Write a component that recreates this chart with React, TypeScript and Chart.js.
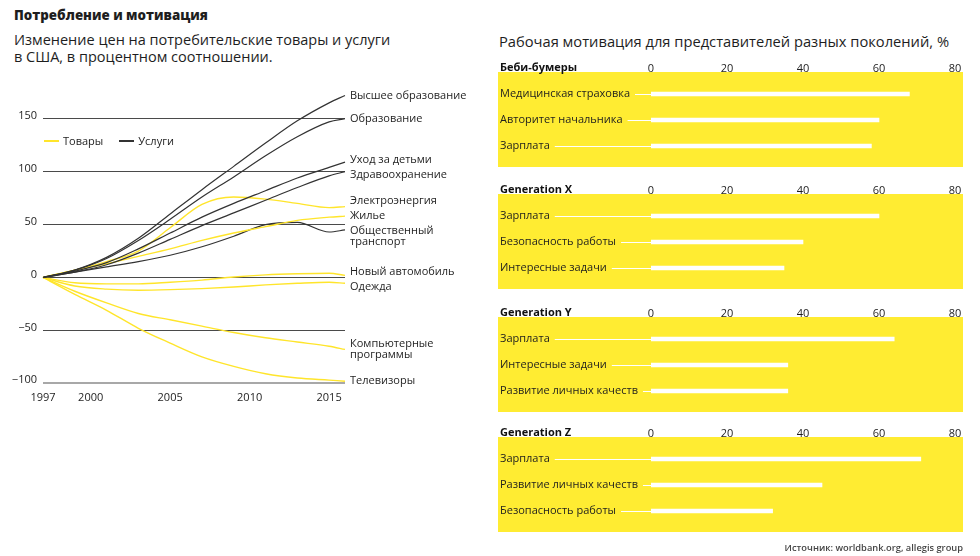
import React, { useEffect, useRef } from "react";
import { Chart, registerables } from "chart.js";

Chart.register(...registerables);

const FONT = '"Open Sans", "Noto Sans", sans-serif';
const YELLOW_LINE = "#FFE52B";
const DARK_LINE = "#333333";
const PANEL_YELLOW = "#FFEC32";
const TEXT = "#1e1e1e";

// ---------- Left chart data ----------
const YEARS = [1997, 1999, 2001, 2003, 2005, 2007, 2009, 2011, 2013, 2015, 2016];
const X_TICKS = [1997, 2000, 2005, 2010, 2015];
const Y_TICKS = [-100, -50, 0, 50, 100, 150];

const HIGHER_EDU = [0, 7, 19, 37, 60, 83, 105, 127, 148, 165, 172];
const EDUCATION = [0, 7, 18, 35, 55, 76, 95, 115, 133, 147, 150];
const CHILDCARE = [0, 6, 14, 27, 42, 57, 70, 82, 94, 104, 109];
const HEALTHCARE = [0, 5, 12, 23, 36, 49, 61, 73, 85, 96, 100];
const ELECTRICITY = [0, 7, 15, 25, 47, 69, 76, 74, 70, 66, 67];
const HOUSING = [0, 7, 13, 20, 27, 35, 42, 48, 54, 57, 58];
const TRANSPORT = [0, 5, 10, 15, 21, 29, 39, 50, 52, 43, 45];
const NEW_CAR = [0, -5, -6, -6, -4.5, -2.5, 0.5, 2.5, 3.5, 4, 2];
const CLOTHING = [0, -8, -11, -12, -11.5, -10.5, -9, -7, -5.5, -4.5, -5.5];
const SOFTWARE = [0, -13, -24, -34, -40, -46, -52, -57, -61, -65, -68];
const TV = [0, -16, -31, -48, -62, -75, -84, -91, -95, -97, -98];

const SERIES = [
  { name: ["Высшее образование"], kind: "services", values: HIGHER_EDU },
  { name: ["Образование"], kind: "services", values: EDUCATION },
  { name: ["Уход за детьми"], kind: "services", values: CHILDCARE },
  { name: ["Здравоохранение"], kind: "services", values: HEALTHCARE },
  { name: ["Электроэнергия"], kind: "goods", values: ELECTRICITY },
  { name: ["Жилье"], kind: "goods", values: HOUSING },
  { name: ["Общественный", "транспорт"], kind: "services", values: TRANSPORT },
  { name: ["Новый автомобиль"], kind: "goods", values: NEW_CAR },
  { name: ["Одежда"], kind: "goods", values: CLOTHING },
  { name: ["Компьютерные", "программы"], kind: "goods", values: SOFTWARE },
  { name: ["Телевизоры"], kind: "goods", values: TV },
];

// ---------- Right chart data ----------
const BAR_TICKS = [0, 20, 40, 60, 80];
const BOOMERS_LABELS = ["Медицинская страховка", "Авторитет начальника", "Зарплата"];
const BOOMERS_VALUES = [68, 60, 58];
const GEN_X_LABELS = ["Зарплата", "Безопасность работы", "Интересные задачи"];
const GEN_X_VALUES = [60, 40, 35];
const GEN_Y_LABELS = ["Зарплата", "Интересные задачи", "Развитие личных качеств"];
const GEN_Y_VALUES = [64, 36, 36];
const GEN_Z_LABELS = ["Зарплата", "Развитие личных качеств", "Безопасность работы"];
const GEN_Z_VALUES = [71, 45, 32];

const PANELS = [
  { title: "Беби-бумеры", labels: BOOMERS_LABELS, values: BOOMERS_VALUES, top: 61 },
  { title: "Generation X", labels: GEN_X_LABELS, values: GEN_X_VALUES, top: 183 },
  { title: "Generation Y", labels: GEN_Y_LABELS, values: GEN_Y_VALUES, top: 306 },
  { title: "Generation Z", labels: GEN_Z_LABELS, values: GEN_Z_VALUES, top: 426 },
];

const endLabels = {
  id: "endLabels",
  afterDatasetsDraw(chart: any) {
    const { ctx, chartArea } = chart;
    const lh = 11.5;
    const items = chart.data.datasets
      .map((ds: any, i: number) => {
        const meta = chart.getDatasetMeta(i);
        const pt = meta.data[meta.data.length - 1];
        const lines: string[] = ds.nameLines;
        return { y: pt.y, lines, h: lines.length * lh };
      })
      .sort((a: any, b: any) => a.y - b.y);
    for (let it = 0; it < 60; it++) {
      for (let i = 1; i < items.length; i++) {
        const a = items[i - 1];
        const b = items[i];
        const need = a.h / 2 + b.h / 2 + 3.5;
        const d = need - (b.y - a.y);
        if (d > 0) {
          a.y -= d / 2;
          b.y += d / 2;
        }
      }
    }
    ctx.save();
    ctx.font = `11px ${FONT}`;
    ctx.fillStyle = TEXT;
    ctx.textBaseline = "middle";
    ctx.textAlign = "left";
    items.forEach((item: any) => {
      item.lines.forEach((ln: string, k: number) => {
        ctx.fillText(ln, chartArea.right + 5, item.y - item.h / 2 + lh / 2 + k * lh);
      });
    });
    ctx.restore();
  },
};

const panelDeco = {
  id: "panelDeco",
  beforeDraw(chart: any, _args: any, opts: any) {
    const { ctx, chartArea } = chart;
    ctx.save();
    ctx.fillStyle = PANEL_YELLOW;
    ctx.fillRect(8, chartArea.top - 9, chartArea.right + 8 - 8, chartArea.height + 17);
    ctx.font = `bold 11px ${FONT}`;
    ctx.fillStyle = "#111";
    ctx.textBaseline = "middle";
    ctx.textAlign = "left";
    ctx.fillText(opts.title, 10, chartArea.top - 13);
    ctx.restore();
  },
  beforeDatasetsDraw(chart: any) {
    const { ctx, chartArea } = chart;
    const yScale = chart.scales.y;
    ctx.save();
    ctx.font = `11px ${FONT}`;
    ctx.strokeStyle = "#ffffff";
    ctx.lineWidth = 1;
    chart.data.labels.forEach((label: string, i: number) => {
      const w = ctx.measureText(label).width;
      const y = Math.round(yScale.getPixelForTick(i)) + 0.5;
      ctx.beginPath();
      ctx.moveTo(10 + w + 5, y);
      ctx.lineTo(chartArea.left, y);
      ctx.stroke();
    });
    ctx.restore();
  },
};

function LineChart() {
  const ref = useRef<HTMLCanvasElement>(null);
  useEffect(() => {
    const chart = new Chart(ref.current!, {
      type: "line",
      data: {
        datasets: SERIES.map((s) => ({
          label: s.name.join(" "),
          nameLines: s.name,
          data: s.values.map((v, i) => ({ x: YEARS[i], y: v })),
          borderColor: s.kind === "goods" ? YELLOW_LINE : DARK_LINE,
          borderWidth: s.kind === "goods" ? 1.4 : 1.2,
          pointRadius: 0,
          cubicInterpolationMode: "monotone",
          clip: false,
        })) as any,
      },
      options: {
        animation: false,
        responsive: false,
        events: [],
        layout: { padding: { top: 87, left: 0, right: 135, bottom: 0 } },
        plugins: { legend: { display: false }, tooltip: { enabled: false } },
        scales: {
          x: {
            type: "linear",
            min: 1997,
            max: 2016,
            grid: { display: false, drawTicks: false },
            border: { display: false },
            afterBuildTicks: (scale: any) => {
              scale.ticks = X_TICKS.map((v) => ({ value: v }));
            },
            afterFit: (scale: any) => {
              scale.height = 420 - 383.3;
            },
            ticks: {
              padding: 8,
              color: TEXT,
              font: { size: 11, family: FONT },
              maxRotation: 0,
              callback: (v: any) => String(v),
            },
          },
          y: {
            type: "linear",
            min: -100,
            max: 180,
            grid: {
              drawTicks: false,
              color: (c: any) => (c.tick && c.tick.value === -100 ? "#a8a8a8" : "#4a4a4a"),
              lineWidth: (c: any) => (c.tick && c.tick.value === -100 ? 2 : 1),
            },
            border: { display: false },
            afterBuildTicks: (scale: any) => {
              scale.ticks = Y_TICKS.map((v) => ({ value: v }));
            },
            afterFit: (scale: any) => {
              scale.width = 43;
            },
            ticks: {
              padding: 6,
              labelOffset: -3,
              color: TEXT,
              font: { size: 11, family: FONT },
              callback: (v: any) => (v < 0 ? "\u2212" + Math.abs(v) : String(v)),
            },
          },
        },
      },
      plugins: [endLabels],
    });
    return () => chart.destroy();
  }, []);
  return (
    <canvas
      ref={ref}
      width={480}
      height={420}
      style={{ position: "absolute", left: 0, top: 0, width: 480, height: 420 }}
    />
  );
}

function BarPanel({ panel }: { panel: (typeof PANELS)[number] }) {
  const ref = useRef<HTMLCanvasElement>(null);
  useEffect(() => {
    const chart = new Chart(ref.current!, {
      type: "bar",
      data: {
        labels: panel.labels,
        datasets: [
          {
            data: panel.values,
            backgroundColor: "#ffffff",
            borderWidth: 0,
            barThickness: 4,
          },
        ],
      },
      options: {
        indexAxis: "y",
        animation: false,
        responsive: false,
        events: [],
        layout: { padding: { top: 0, left: 10, right: 15, bottom: 22 } },
        plugins: {
          legend: { display: false },
          tooltip: { enabled: false },
          panelDeco: { title: panel.title },
        } as any,
        scales: {
          x: {
            position: "top",
            min: 0,
            max: 80,
            grid: { display: false, drawTicks: false },
            border: { display: false },
            afterBuildTicks: (scale: any) => {
              scale.ticks = BAR_TICKS.map((v) => ({ value: v }));
            },
            afterFit: (scale: any) => {
              scale.height = 20;
            },
            ticks: {
              padding: 6,
              color: TEXT,
              font: { size: 11, family: FONT },
              maxRotation: 0,
            },
          },
          y: {
            grid: { display: false, drawTicks: false },
            border: { display: false },
            afterFit: (scale: any) => {
              scale.width = 151;
            },
            ticks: {
              crossAlign: "far",
              padding: 0,
              color: TEXT,
              font: { size: 11, family: FONT },
            },
          },
        },
      },
      plugins: [panelDeco],
    });
    return () => chart.destroy();
  }, [panel]);
  return (
    <canvas
      ref={ref}
      width={480}
      height={120}
      style={{ position: "absolute", left: 490, top: panel.top, width: 480, height: 120 }}
    />
  );
}

export default function App() {
  return (
    <div
      style={{
        position: "absolute",
        left: 0,
        top: 0,
        width: 980,
        height: 556,
        background: "#fff",
        fontFamily: FONT,
        color: TEXT,
        overflow: "hidden",
      }}
    >
      <div style={{ position: "absolute", left: 14, top: 7, fontSize: 13.3, fontWeight: 800, lineHeight: "16px", whiteSpace: "nowrap" }}>
        Потребление и мотивация
      </div>
      <div style={{ position: "absolute", left: 14, top: 32, fontSize: 14.5, lineHeight: "16.5px", width: 430 }}>
        Изменение цен на потребительские товары и услуги
        <br />в США, в процентном соотношении.
      </div>
      <div style={{ position: "absolute", left: 499, top: 33, fontSize: 14.7, lineHeight: "17px", whiteSpace: "nowrap" }}>
        Рабочая мотивация для представителей разных поколений, %
      </div>
      <LineChart />
      <div style={{ position: "absolute", left: 44, top: 132, fontSize: 11, lineHeight: "16px", whiteSpace: "nowrap" }}>
        <span style={{ display: "inline-block", width: 15, height: 2, background: YELLOW_LINE, verticalAlign: "middle", marginRight: 4 }} />
        <span style={{ verticalAlign: "middle" }}>Товары</span>
        <span style={{ display: "inline-block", width: 15, height: 2, background: DARK_LINE, verticalAlign: "middle", marginLeft: 16, marginRight: 4 }} />
        <span style={{ verticalAlign: "middle" }}>Услуги</span>
      </div>
      {PANELS.map((p) => (
        <BarPanel key={p.title} panel={p} />
      ))}
      <div
        style={{
          position: "absolute",
          left: 663,
          width: 300,
          top: 541,
          fontSize: 9.3,
          fontWeight: 600,
          color: "#444",
          textAlign: "right",
          lineHeight: "14px",
        }}
      >
        Источник: worldbank.org, allegis group
      </div>
    </div>
  );
}
